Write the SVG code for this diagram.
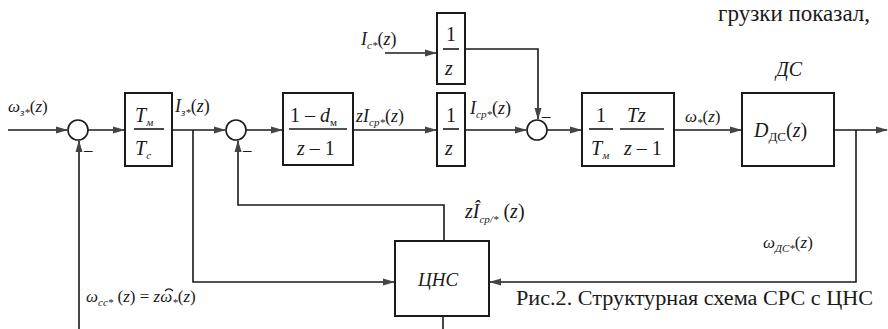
<svg xmlns="http://www.w3.org/2000/svg" width="888" height="329" viewBox="0 0 888 329">
<style>
.ln{fill:none;stroke:#1a1a1a;stroke-width:1.6}
.bx{fill:none;stroke:#1a1a1a;stroke-width:2}
.sm{fill:#fff;stroke:#1a1a1a;stroke-width:1.6}
.t{font-style:italic;fill:#1a1a1a}
.n{fill:#1a1a1a}
.r{font-style:normal}
.s{font-size:11px}
</style>
<defs>
<marker id="ar" markerWidth="12" markerHeight="8" refX="11" refY="4" orient="auto" markerUnits="userSpaceOnUse">
<path d="M0,0.5 L12,4 L0,7.5 Z" fill="#444"/>
</marker>
</defs>
<rect width="888" height="329" fill="#fff"/>
<g font-family="Liberation Serif, Times New Roman, DejaVu Serif, serif" font-size="17">
<text class="n" x="718" y="21" style="font-size:23px">грузки показал,</text>

<g id="connectors">
<line class="ln" x1="8" y1="130" x2="67" y2="130" marker-end="url(#ar)"/>
<line class="ln" x1="88" y1="130" x2="124" y2="130" marker-end="url(#ar)"/>
<line class="ln" x1="172" y1="130" x2="225" y2="130" marker-end="url(#ar)"/>
<line class="ln" x1="246" y1="130" x2="282" y2="130" marker-end="url(#ar)"/>
<line class="ln" x1="353" y1="130" x2="436" y2="130" marker-end="url(#ar)"/>
<line class="ln" x1="465" y1="130" x2="526" y2="130" marker-end="url(#ar)"/>
<line class="ln" x1="547" y1="130" x2="581" y2="130" marker-end="url(#ar)"/>
<line class="ln" x1="674" y1="130" x2="741" y2="130" marker-end="url(#ar)"/>
<line class="ln" x1="834" y1="130" x2="887" y2="130" marker-end="url(#ar)"/>
<line class="ln" x1="385" y1="53" x2="436" y2="53" marker-end="url(#ar)"/>
<polyline class="ln" points="465,49 538,49 538,119" marker-end="url(#ar)"/>
<polyline class="ln" points="79,329 79,141" marker-end="url(#ar)"/>
<polyline class="ln" points="444,240 444,205 238,205 238,141" marker-end="url(#ar)"/>
<polyline class="ln" points="193,130 193,282 394,282" marker-end="url(#ar)"/>
<polyline class="ln" points="856,130 856,282 490,282" marker-end="url(#ar)"/>
<line class="ln" x1="443" y1="316" x2="443" y2="329"/>
</g>

<g id="sum1"><circle class="sm" cx="78" cy="130" r="10"/><text class="n" x="84" y="155">–</text></g>
<g id="sum2"><circle class="sm" cx="236" cy="130" r="10"/><text class="n" x="243" y="155">–</text></g>
<g id="sum3"><circle class="sm" cx="537" cy="130" r="10"/><text class="n" x="542" y="121">–</text></g>

<g id="b1" style="font-size:20px">
<rect class="bx" x="125" y="93" width="47" height="73"/>
<text class="t" x="135" y="122">T<tspan class="s" dy="4">м</tspan></text>
<line class="ln" x1="134" y1="129" x2="164" y2="129"/>
<text class="t" x="135" y="155">T<tspan class="s" dy="4">с</tspan></text>
</g>
<g id="b2" style="font-size:20px">
<rect class="bx" x="283" y="93" width="70" height="72"/>
<text class="n" x="290" y="122">1 – <tspan class="t">d</tspan><tspan class="s" dy="4">м</tspan></text>
<line class="ln" x1="289" y1="129" x2="347" y2="129"/>
<text class="t" x="297" y="155">z <tspan class="r">– 1</tspan></text>
</g>
<g id="b3" style="font-size:20px">
<rect class="bx" x="437" y="93" width="28" height="73"/>
<text class="n" x="446" y="122">1</text>
<line class="ln" x1="443" y1="129" x2="459" y2="129"/>
<text class="t" x="445" y="155">z</text>
</g>
<g id="b4" style="font-size:20px">
<rect class="bx" x="437" y="13" width="28" height="71"/>
<text class="n" x="446" y="41">1</text>
<line class="ln" x1="443" y1="49" x2="459" y2="49"/>
<text class="t" x="445" y="75">z</text>
</g>
<g id="b5" style="font-size:20px">
<rect class="bx" x="582" y="93" width="92" height="73"/>
<text class="n" x="596" y="122">1</text>
<line class="ln" x1="589" y1="129" x2="613" y2="129"/>
<text class="t" x="591" y="155">T<tspan class="s" dy="4">м</tspan></text>
<text class="t" x="627" y="122">Tz</text>
<line class="ln" x1="620" y1="129" x2="664" y2="129"/>
<text class="t" x="624" y="155">z <tspan class="r">– 1</tspan></text>
</g>
<g id="ds" style="font-size:20px">
<text class="t" x="776" y="76">ДС</text>
<rect class="bx" x="742" y="93" width="92" height="73"/>
<text class="t" x="754" y="137">D<tspan class="r" dy="4" style="font-size:13px">ДС</tspan><tspan class="r" dy="-4">(</tspan>z<tspan class="r">)</tspan></text>
</g>
<g id="cns" style="font-size:19px">
<rect class="bx" x="395" y="241" width="94" height="75"/>
<text class="t" x="418" y="286">ЦНС</text>
</g>

<g id="labels">
<text class="t" x="8" y="112">ω<tspan class="s" dy="4">з*</tspan><tspan class="r" dy="-4">(</tspan>z<tspan class="r">)</tspan></text>
<text class="t" x="175" y="112" style="font-size:18px">I<tspan class="s" dy="4">з*</tspan><tspan class="r" dy="-4">(</tspan>z<tspan class="r">)</tspan></text>
<text class="t" x="356" y="122" style="font-size:18px">zI<tspan class="s" dy="4">ср*</tspan><tspan class="r" dy="-4">(</tspan>z<tspan class="r">)</tspan></text>
<text class="t" x="470" y="114" style="font-size:18px">I<tspan class="s" dy="4">ср*</tspan><tspan class="r" dy="-4">(</tspan>z<tspan class="r">)</tspan></text>
<text class="t" x="361" y="45" style="font-size:18px">I<tspan class="s" dy="4">с*</tspan><tspan class="r" dy="-4">(</tspan>z<tspan class="r">)</tspan></text>
<text class="t" x="685" y="122">ω<tspan class="s" dy="4">*</tspan><tspan class="r" dy="-4">(</tspan>z<tspan class="r">)</tspan></text>
<text class="t" x="465" y="218" style="font-size:20px">zÎ<tspan class="s" dy="5">ср/*</tspan><tspan class="r" dy="-5"> (</tspan>z<tspan class="r">)</tspan></text>
<text class="t" x="763" y="248" style="font-size:17px">ω<tspan class="s" dy="4">ДС*</tspan><tspan class="r" dy="-4">(</tspan>z<tspan class="r">)</tspan></text>
<text class="t" x="86" y="302" style="font-size:17px">ω<tspan class="s" dy="4">сс*</tspan><tspan class="r" dy="-4"> (</tspan>z<tspan class="r">) = </tspan>zω<tspan class="s" dy="4">*</tspan><tspan class="r" dy="-4">(</tspan>z<tspan class="r">)</tspan></text>
<path class="ln" d="M165,291 Q169,287 173,291" style="stroke-width:1.2"/>
<text class="n" x="516" y="305" style="font-size:20px" textLength="357" lengthAdjust="spacingAndGlyphs">Рис.2. Структурная схема СРС с ЦНС</text>
</g>
</g>
</svg>
